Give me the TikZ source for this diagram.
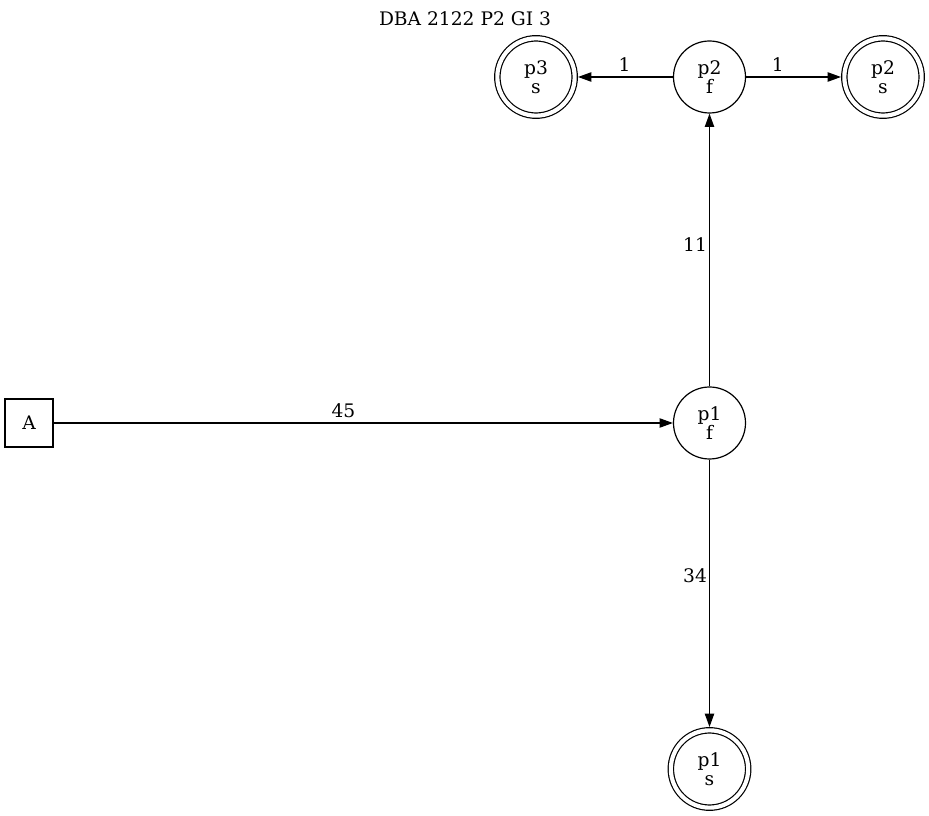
\documentclass[tikz,border=0pt]{standalone}
\usepackage{fontspec}
\setmainfont{DejaVu Serif}
\usetikzlibrary{arrows.meta}
\begin{document}
\begin{tikzpicture}[x=0.75pt, y=-0.75pt,
  every node/.style={font=\fontsize{14pt}{14.5pt}\selectfont, inner sep=0pt},
  state/.style={circle, draw, line width=0.9pt, minimum size=54pt, align=center},
  final/.style={circle, draw, line width=0.9pt, double, double distance=3.1pt,
                minimum size=58pt, outer sep=2.5pt, align=center},
  source/.style={rectangle, draw, line width=0.9pt, minimum size=36pt},
  edge/.style={draw, line width=0.9pt, -{Triangle[length=10pt, width=7pt]}},
  hlbl/.style={anchor=base, yshift=4pt},
  vlbl/.style={anchor=base east, xshift=-1.5pt}]
  \useasboundingbox (0,0) rectangle (929,816);

  % title
  \node[anchor=base] (title) at (465,26) {DBA 2122 P2 GI 3};

  % states
  \node[source] (A)   at (29,423)    {A};
  \node[state]  (p1f) at (709.5,423) {p1\\f};
  \node[state]  (p2f) at (709.5,77)  {p2\\f};
  \node[final]  (p1s) at (709.5,769) {p1\\s};
  \node[final]  (p3s) at (536,77)    {p3\\s};
  \node[final]  (p2s) at (883,77)    {p2\\s};

  % transitions
  \draw[edge] (A)   -- node[hlbl, pos=0.468] (l45) {45} (p1f);
  \draw[edge] (p1f) -- node[vlbl, pos=0.493] (l11) {11} (p2f);
  \draw[edge] (p1f) -- node[vlbl, pos=0.459] (l34) {34} (p1s);
  \draw[edge] (p2f) -- node[hlbl, pos=0.51]  (l1a) {1}  (p3s);
  \draw[edge] (p2f) -- node[hlbl, pos=0.333] (l1b) {1}  (p2s);
\end{tikzpicture}
\end{document}
